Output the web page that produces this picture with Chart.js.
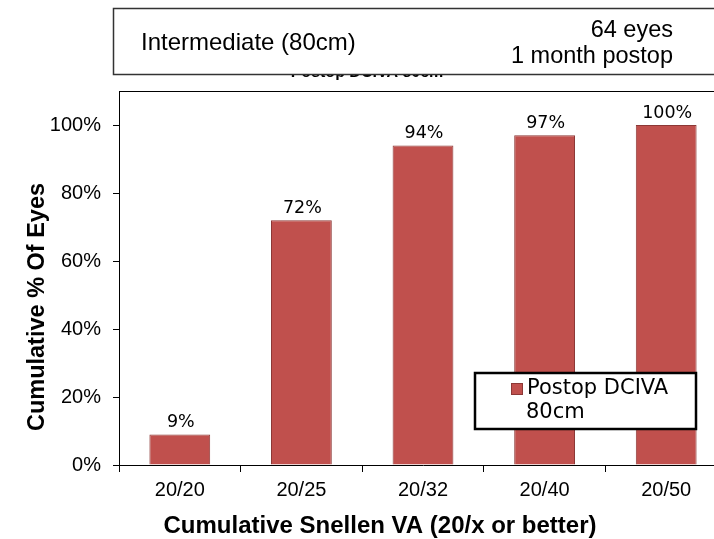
<!DOCTYPE html>
<html><head><meta charset="utf-8">
<script src="https://cdn.jsdelivr.net/npm/chart.js@4"></script>
<style>
html,body{margin:0;padding:0;background:#fff;overflow:hidden;width:714px;height:539px;}
#wrap{position:absolute;left:0;top:0;width:760px;height:539px;}
</style></head><body>
<div id="wrap"><canvas id="c" width="760" height="539"></canvas></div>
<script>
const categories = ["20/20","20/25","20/32","20/40","20/50"];
const seriesName = "Postop DCIVA 80cm";
const values = [9, 72, 94, 97, 100];
const yTicks = [0,20,40,60,80,100];
const titleLeft = "Intermediate (80cm)";
const titleRight = ["64 eyes","1 month postop"];
const xTitle = "Cumulative Snellen VA (20/x or better)";
const yTitle = "Cumulative % Of Eyes";

const ARIAL = '"Liberation Sans", Arial, sans-serif';
const VERD = '"DejaVu Sans", Verdana, sans-serif';

const decor = {
  id:'decor',
  beforeDraw(chart){
    const ctx = chart.ctx;
    ctx.save();
    // subtitle partially covered by the title box
    ctx.font = 'bold 16px ' + ARIAL;
    ctx.fillStyle = '#000';
    ctx.textAlign = 'center';
    ctx.textBaseline = 'alphabetic';
    ctx.fillText(seriesName, 367, 77);
    // title box
    ctx.fillStyle = '#fff';
    ctx.fillRect(113, 8, 700, 66);
    ctx.strokeStyle = '#333';
    ctx.lineWidth = 1.5;
    ctx.strokeRect(113.5, 8.5, 700, 66);
    ctx.fillStyle = '#000';
    ctx.font = '24px ' + ARIAL;
    ctx.textAlign = 'left';
    ctx.textBaseline = 'middle';
    ctx.fillText(titleLeft, 141, 43);
    ctx.font = '23.5px ' + ARIAL;
    ctx.textAlign = 'right';
    ctx.fillText(titleRight[0], 673, 31);
    ctx.fillText(titleRight[1], 673, 57);
    // plot area top border
    const a = chart.chartArea;
    ctx.strokeStyle = '#000';
    ctx.lineWidth = 1;
    ctx.beginPath();
    ctx.moveTo(a.left, Math.round(a.top)+0.5);
    ctx.lineTo(a.right, Math.round(a.top)+0.5);
    ctx.lineTo(a.right, a.bottom);
    ctx.stroke();
    // axis titles
    ctx.font = 'bold 24px ' + ARIAL;
    ctx.textAlign = 'center';
    ctx.textBaseline = 'middle';
    ctx.fillText(xTitle, 380, 526);
    ctx.font = 'bold 23.5px ' + ARIAL;
    ctx.translate(38, 307);
    ctx.rotate(-Math.PI/2);
    ctx.fillText(yTitle, 0, 0);
    ctx.restore();
  },
  afterDraw(chart){
    const ctx = chart.ctx;
    ctx.save();
    // data labels
    const meta = chart.getDatasetMeta(0);
    ctx.font = '17.5px ' + VERD;
    ctx.fillStyle = '#000';
    ctx.textAlign = 'center';
    ctx.textBaseline = 'alphabetic';
    meta.data.forEach((el,i)=>{
      ctx.fillText(values[i] + '%', el.x + 1, el.y - 7);
    });
    // legend
    ctx.fillStyle = '#fff';
    ctx.fillRect(474, 372, 223, 58);
    ctx.strokeStyle = '#000';
    ctx.lineWidth = 2.5;
    ctx.strokeRect(475, 373, 221, 56);
    ctx.fillStyle = '#C0504D';
    ctx.fillRect(511, 383, 12, 12);
    ctx.strokeStyle = '#8C3836';
    ctx.lineWidth = 1;
    ctx.strokeRect(511.5, 383.5, 11, 11);
    ctx.fillStyle = '#000';
    ctx.font = '21px ' + VERD;
    ctx.textAlign = 'left';
    ctx.textBaseline = 'middle';
    const parts = seriesName.split(' ');
    ctx.fillText(parts.slice(0,2).join(' '), 527, 389);
    ctx.fillText(parts.slice(2).join(' '), 526, 413);
    ctx.restore();
  }
};

new Chart(document.getElementById('c'), {
  type:'bar',
  data:{ labels:categories, datasets:[{ label:seriesName, data:values,
    backgroundColor:'#C0504D', borderColor:'#8C3836', borderWidth:1,
    categoryPercentage:1.0, barPercentage:0.5 }]},
  options:{
    responsive:false, animation:false, devicePixelRatio:1,
    layout:{ padding:{ left:0, top:91, right:33, bottom:0 } },
    plugins:{ legend:{display:false}, title:{display:false}, tooltip:{enabled:false} },
    scales:{
      x:{
        afterFit(s){ s.height = 74; },
        grid:{ display:true, drawOnChartArea:false, drawTicks:true, tickLength:7, color:'#000', offset:true },
        border:{ display:true, color:'#000', width:1 },
        ticks:{ color:'#000', font:{ family:ARIAL, size:20 }, padding:6, maxRotation:0 }
      },
      y:{
        min:0, max:110,
        afterFit(s){ s.width = 119; },
        afterBuildTicks(s){ s.ticks = yTicks.map(v=>({value:v})); },
        grid:{ display:true, drawOnChartArea:false, drawTicks:true, tickLength:6, color:'#000' },
        border:{ display:true, color:'#000', width:1 },
        ticks:{ color:'#000', font:{ family:ARIAL, size:20 }, padding:12, callback:v=>v+'%' }
      }
    }
  },
  plugins:[decor]
});
</script>
</body></html>
